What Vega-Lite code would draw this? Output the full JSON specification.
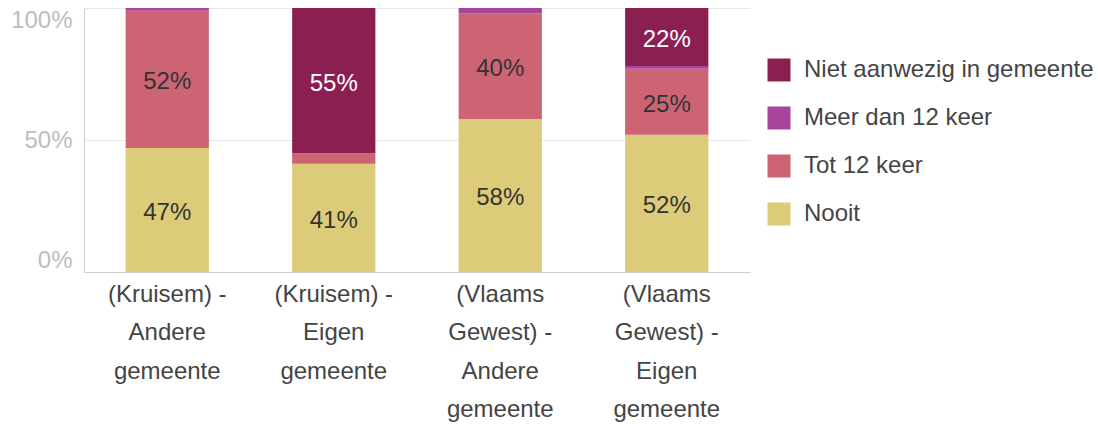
{
  "$schema": "https://vega.github.io/schema/vega-lite/v6.json",
  "width": 666,
  "height": 264,
  "autosize": {"type": "none"},
  "padding": {"left": 84, "top": 8, "right": 348, "bottom": 154},
  "background": "white",
  "config": {"font": "Liberation Sans", "view": {"stroke": null}},
  "data": {
    "values": [
      {"groep": "(Kruisem) - Andere gemeente", "freq": "Nooit", "pct": 0.47},
      {"groep": "(Kruisem) - Andere gemeente", "freq": "Tot 12 keer", "pct": 0.52},
      {"groep": "(Kruisem) - Andere gemeente", "freq": "Meer dan 12 keer", "pct": 0.01},
      {"groep": "(Kruisem) - Eigen gemeente", "freq": "Nooit", "pct": 0.41},
      {"groep": "(Kruisem) - Eigen gemeente", "freq": "Tot 12 keer", "pct": 0.04},
      {"groep": "(Kruisem) - Eigen gemeente", "freq": "Niet aanwezig in gemeente", "pct": 0.55},
      {"groep": "(Vlaams Gewest) - Andere gemeente", "freq": "Nooit", "pct": 0.58},
      {"groep": "(Vlaams Gewest) - Andere gemeente", "freq": "Tot 12 keer", "pct": 0.40},
      {"groep": "(Vlaams Gewest) - Andere gemeente", "freq": "Meer dan 12 keer", "pct": 0.02},
      {"groep": "(Vlaams Gewest) - Eigen gemeente", "freq": "Nooit", "pct": 0.52},
      {"groep": "(Vlaams Gewest) - Eigen gemeente", "freq": "Tot 12 keer", "pct": 0.25},
      {"groep": "(Vlaams Gewest) - Eigen gemeente", "freq": "Meer dan 12 keer", "pct": 0.01},
      {"groep": "(Vlaams Gewest) - Eigen gemeente", "freq": "Niet aanwezig in gemeente", "pct": 0.22}
    ]
  },
  "transform": [
    {"calculate": "indexof(['Nooit','Tot 12 keer','Meer dan 12 keer','Niet aanwezig in gemeente'], datum.freq)", "as": "rank"},
    {"stack": "pct", "groupby": ["groep"], "sort": [{"field": "rank", "order": "ascending"}], "as": ["p0", "p1"]},
    {"calculate": "(datum.p0 + datum.p1) / 2", "as": "mid"}
  ],
  "encoding": {
    "x": {
      "field": "groep",
      "type": "nominal",
      "sort": null,
      "scale": {"paddingInner": 0.5, "paddingOuter": 0.25},
      "axis": {
        "title": null,
        "labelAngle": 0,
        "labelFontSize": 24,
        "labelColor": "#444444",
        "labelLineHeight": 38.5,
        "labelPadding": 10,
        "ticks": false,
        "domainColor": "#cccccc",
        "labelExpr": "split(replace(datum.label, ' -', '\u00a0-'), ' ')"
      }
    }
  },
  "layer": [
    {
      "mark": {"type": "bar"},
      "encoding": {
        "y": {
          "field": "p0",
          "type": "quantitative",
          "scale": {"domain": [0, 1]},
          "axis": {
            "title": null,
            "values": [0, 0.5, 1],
            "format": ".0%",
            "labelFontSize": 24,
            "labelColor": "#bdbdbd",
            "labelPadding": 12,
            "labelFlush": true,
            "ticks": false,
            "domainColor": "#cccccc",
            "gridColor": "#e8e8e8"
          }
        },
        "y2": {"field": "p1"},
        "color": {
          "field": "freq",
          "type": "nominal",
          "scale": {
            "domain": ["Niet aanwezig in gemeente", "Meer dan 12 keer", "Tot 12 keer", "Nooit"],
            "range": ["#8B1F52", "#A8449B", "#CC6474", "#DCCB78"]
          },
          "legend": {
            "title": null,
            "orient": "none",
            "legendX": 683,
            "legendY": 50,
            "symbolType": "square",
            "symbolSize": 529,
            "symbolStrokeWidth": 0,
            "symbolOpacity": 1,
            "labelFontSize": 24,
            "labelColor": "#444444",
            "labelOffset": 13,
            "rowPadding": 24,
            "labelLimit": 400
          }
        }
      }
    },
    {
      "transform": [{"filter": "datum.pct >= 0.05"}],
      "mark": {"type": "text", "fontSize": 24, "dy": 3},
      "encoding": {
        "y": {"field": "mid", "type": "quantitative", "scale": {"domain": [0, 1]}, "axis": {"title": null}},
        "text": {"field": "pct", "type": "quantitative", "format": ".0%"},
        "color": {
          "condition": {"test": "datum.freq == 'Niet aanwezig in gemeente'", "value": "white"},
          "value": "#333333"
        }
      }
    }
  ]
}
